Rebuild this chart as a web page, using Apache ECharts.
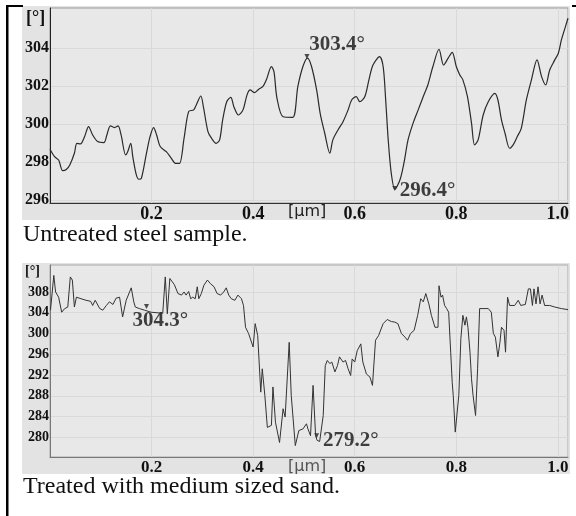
<!DOCTYPE html>
<html>
<head>
<meta charset="utf-8">
<script src="https://cdn.jsdelivr.net/npm/echarts@6/dist/echarts.min.js"></script>
<style>
  html, body { margin: 0; padding: 0; background: #fff; }
  #chart { width: 576px; height: 516px; }
</style>
</head>
<body>
<div id="chart"></div>
<script>
// profile of the untreated sample, [x in µm, angle in °]
var untreated = [
  [0, 298.67], [0.009, 298.28], [0.017, 298.1], [0.025, 297.54], [0.032, 297.6], [0.039, 297.84],
  [0.048, 298.46], [0.053, 298.98], [0.060, 298.95], [0.068, 299.33], [0.076, 299.86], [0.084, 299.42],
  [0.094, 299.07], [0.106, 299.02], [0.112, 299.42], [0.119, 299.9], [0.127, 299.81], [0.134, 299.9],
  [0.140, 299.42], [0.149, 298.37], [0.153, 298.54], [0.159, 298.98], [0.163, 298.28], [0.170, 297.32],
  [0.175, 297.09], [0.180, 297.14], [0.190, 298.46], [0.197, 299.33], [0.204, 299.81], [0.210, 299.42],
  [0.217, 298.81], [0.229, 298.54], [0.239, 298.19], [0.247, 297.93], [0.255, 297.93], [0.264, 299.25],
  [0.273, 300.65], [0.283, 300.74], [0.288, 301.0], [0.297, 301.47], [0.302, 300.91], [0.311, 299.6],
  [0.318, 299.25], [0.327, 298.98], [0.334, 299.16], [0.340, 300.21], [0.348, 301.17], [0.356, 301.4],
  [0.362, 300.91], [0.371, 300.47], [0.380, 300.74], [0.388, 301.53], [0.394, 301.79], [0.403, 301.65],
  [0.411, 301.83], [0.419, 301.96], [0.426, 302.32], [0.436, 303.02], [0.441, 302.75], [0.447, 301.35],
  [0.459, 300.38], [0.478, 300.35], [0.488, 301.96], [0.498, 303.02], [0.507, 303.46], [0.515, 303.02],
  [0.525, 301.79], [0.532, 300.56], [0.541, 299.51], [0.551, 298.46], [0.557, 299.16], [0.567, 299.68],
  [0.577, 300.12], [0.587, 300.74], [0.594, 301.26], [0.603, 301.44], [0.610, 301.17], [0.620, 301.44],
  [0.628, 302.32], [0.636, 303.1], [0.649, 303.54], [0.656, 303.02], [0.661, 301.26], [0.666, 299.16],
  [0.672, 297.4], [0.679, 296.56], [0.689, 297.05], [0.697, 297.95], [0.705, 299.16], [0.715, 300.04],
  [0.725, 300.74], [0.735, 301.44], [0.744, 302.05], [0.754, 303.02], [0.766, 303.93], [0.775, 303.1],
  [0.784, 303.46], [0.792, 303.77], [0.800, 303.02], [0.807, 302.58], [0.813, 302.32], [0.822, 301.44],
  [0.830, 300.04], [0.836, 298.9], [0.843, 299.16], [0.853, 300.47], [0.863, 301.17], [0.876, 301.61],
  [0.882, 301.26], [0.889, 300.21], [0.896, 299.51], [0.905, 298.72], [0.912, 298.9], [0.920, 299.33],
  [0.928, 299.77], [0.938, 301.26], [0.948, 302.32], [0.959, 303.37], [0.968, 302.49], [0.976, 302.05],
  [0.984, 302.84], [0.994, 303.37], [1.001, 303.72], [1.007, 304.42], [1.016, 305.21], [1.020, 305.56]
];

// profile of the sample treated with medium sized sand
var treated = [
  [0.001, 304.5], [0.0075, 311.2], [0.011, 308.0], [0.014, 307.7], [0.017, 307.0], [0.023, 304.1],
  [0.029, 304.8], [0.035, 305.1], [0.040, 310.9], [0.044, 310.3], [0.048, 305.1], [0.052, 307.0],
  [0.061, 306.7], [0.071, 306.4], [0.080, 306.2], [0.084, 305.4], [0.089, 306.4], [0.098, 304.8],
  [0.104, 304.5], [0.111, 305.4], [0.117, 306.1], [0.124, 305.6], [0.130, 306.8], [0.137, 307.0],
  [0.143, 303.2], [0.150, 306.4], [0.160, 308.8], [0.165, 306.1], [0.168, 305.1], [0.176, 304.8],
  [0.186, 304.5], [0.199, 304.1], [0.222, 303.9], [0.227, 310.9], [0.231, 303.8], [0.236, 310.6],
  [0.245, 309.4], [0.252, 307.7], [0.259, 307.4], [0.264, 308.0], [0.268, 307.4], [0.273, 308.1],
  [0.277, 306.7], [0.281, 307.0], [0.286, 306.7], [0.290, 309.0], [0.293, 306.7], [0.298, 307.7],
  [0.303, 309.3], [0.310, 310.3], [0.316, 309.6], [0.323, 309.0], [0.329, 307.7], [0.336, 307.4],
  [0.342, 308.0], [0.347, 308.8], [0.352, 307.4], [0.357, 306.7], [0.364, 306.4], [0.370, 307.4],
  [0.377, 306.7], [0.381, 305.4], [0.385, 301.2], [0.391, 300.0], [0.400, 297.4], [0.404, 301.9],
  [0.409, 299.6], [0.415, 288.7], [0.418, 293.2], [0.423, 288.1], [0.428, 281.9], [0.436, 282.3],
  [0.439, 289.7], [0.444, 282.9], [0.452, 279.0], [0.459, 285.5], [0.463, 283.9], [0.471, 298.3],
  [0.475, 288.1], [0.483, 278.4], [0.490, 281.3], [0.498, 281.6], [0.505, 282.6], [0.508, 281.6],
  [0.513, 280.3], [0.518, 290.0], [0.523, 280.3], [0.526, 279.4], [0.531, 279.2], [0.538, 284.2],
  [0.542, 293.8], [0.546, 294.8], [0.551, 294.2], [0.555, 294.5], [0.561, 292.6], [0.566, 293.8],
  [0.570, 295.5], [0.577, 294.5], [0.582, 294.8], [0.587, 293.2], [0.592, 291.9], [0.595, 295.1],
  [0.600, 294.5], [0.605, 296.7], [0.612, 298.0], [0.616, 294.5], [0.623, 292.2], [0.630, 291.6],
  [0.635, 290.0], [0.641, 298.7], [0.647, 299.6], [0.656, 301.9], [0.664, 302.7], [0.672, 302.3],
  [0.679, 302.2], [0.685, 301.9], [0.692, 300.0], [0.699, 299.3], [0.704, 298.7], [0.710, 300.0],
  [0.717, 300.6], [0.724, 303.5], [0.730, 306.7], [0.735, 306.1], [0.740, 307.7], [0.746, 305.7],
  [0.751, 303.5], [0.758, 301.2], [0.764, 301.2], [0.766, 309.2], [0.770, 307.0], [0.773, 307.4],
  [0.777, 305.4], [0.781, 304.8], [0.785, 304.1], [0.789, 296.4], [0.792, 290.6], [0.794, 288.1],
  [0.798, 281.0], [0.801, 281.3], [0.805, 288.1], [0.809, 299.0], [0.813, 303.5], [0.817, 301.6],
  [0.820, 303.2], [0.823, 301.2], [0.827, 296.4], [0.830, 291.3], [0.833, 288.1], [0.838, 284.2],
  [0.842, 293.2], [0.846, 304.8], [0.863, 304.8], [0.869, 304.1], [0.873, 300.0], [0.877, 299.3],
  [0.882, 295.5], [0.886, 298.3], [0.889, 301.2], [0.894, 300.6], [0.897, 296.4], [0.901, 307.0],
  [0.905, 305.4], [0.915, 305.4], [0.922, 306.4], [0.927, 305.4], [0.936, 305.6], [0.942, 308.6],
  [0.946, 308.6], [0.950, 305.4], [0.953, 308.6], [0.957, 305.7], [0.961, 309.0], [0.965, 305.7],
  [0.969, 307.4], [0.974, 305.4], [0.984, 305.4], [0.994, 305.1], [1.007, 304.8], [1.020, 304.6]
];

var topMarks = [[0.506, 303.55], [0.679, 296.6]];
var topMarkLabels = ['303.4°', '296.4°'];
var bottomMarks = [[0.190, 305.2], [0.525, 280.3]];
var bottomMarkLabels = ['304.3°', '279.2°'];

var topTicks = [296, 298, 300, 302, 304];
var bottomTicks = [280, 284, 288, 292, 296, 300, 304, 308];

var captions = ['Untreated steel sample.', 'Treated with medium sized sand.'];

var serif = '"Liberation Serif", "Times New Roman", serif';
var sans = '"DejaVu Sans", Verdana, sans-serif';

// label offsets relative to the marker box
var topOffsets = [[4.8, -9.5], [7.5, 4.5]];
var bottomOffsets = [[-11.5, 16.5], [8.8, 7.2]];

function markData(points, labels, offsets) {
  return points.map(function (p, i) {
    return {
      value: p,
      label: { position: offsets[i], formatter: labels[i] }
    };
  });
}

function xAxisFor(idx, fontSize) {
  return {
    type: 'value',
    gridIndex: idx,
    min: 0,
    max: 1.02,
    interval: 0.2,
    axisLine: { show: true, lineStyle: { color: idx === 0 ? '#333' : '#777', width: 1 } },
    axisTick: { show: false },
    splitLine: { show: true, lineStyle: { color: '#d9d9d9', width: 1 } },
    axisLabel: {
      margin: 2,
      color: '#111',
      fontFamily: serif,
      fontWeight: 'bold',
      fontSize: fontSize,
      formatter: function (v) { return v === 0 ? '' : v.toFixed(1) }
    }
  }
}

function yAxisFor(idx, min, max, ticks, fontSize) {
  return {
    type: 'value',
    gridIndex: idx,
    min: min,
    max: max,
    axisLine: { show: true, lineStyle: { color: idx === 0 ? '#222' : '#777', width: 1 } },
    axisTick: { show: false, customValues: ticks },
    splitLine: { show: true, lineStyle: { color: '#d9d9d9', width: 1 } },
    axisLabel: {
      customValues: ticks,
      margin: 1,
      color: '#111',
      fontFamily: serif,
      fontWeight: 'bold',
      fontSize: fontSize
    }
  }
}

var markLabel = {
  show: true,
  align: 'left',
  verticalAlign: 'middle',
  color: '#111',
  fontFamily: serif,
  fontWeight: 'bold',
  fontSize: 21
};

var chart = echarts.init(document.getElementById('chart'), null, { renderer: 'canvas' });

chart.setOption({
  animation: false,
  backgroundColor: '#fff',
  graphic: [
    { type: 'rect', z: -10, shape: { x: 22, y: 6, width: 548, height: 214 }, style: { fill: '#e3e3e3' } },
    { type: 'rect', z: -10, shape: { x: 22, y: 263, width: 548, height: 211 }, style: { fill: '#e3e3e3' } },
    { type: 'rect', shape: { x: 6, y: 5, width: 2.5, height: 511 }, style: { fill: '#000' } },
    { type: 'rect', shape: { x: 6, y: 5, width: 17, height: 2 }, style: { fill: '#000' } },
    { type: 'rect', shape: { x: 572, y: 5, width: 4, height: 2 }, style: { fill: '#000' } },
    { type: 'text', left: 26, top: 9, style: { text: '[°]', font: 'bold 18px ' + serif, fill: '#111' } },
    { type: 'text', left: 25, top: 264, style: { text: '[°]', font: 'bold 14px ' + serif, fill: '#111' } },
    { type: 'text', left: 288, top: 204, style: { text: '[µm]', font: '16px ' + sans, fill: '#222' } },
    { type: 'text', left: 288, top: 459, style: { text: '[µm]', font: '16px ' + sans, fill: '#555' } },
    { type: 'text', left: 23, top: 223, style: { text: captions[0], font: '24px ' + serif, fill: '#111' } },
    { type: 'text', left: 23, top: 475, style: { text: captions[1], font: '24px ' + serif, fill: '#111' } }
  ],
  grid: [
    { left: 50, right: 8, top: 8, height: 195, show: true, backgroundColor: '#e8e8e8', borderColor: '#999', borderWidth: 1 },
    { left: 50, right: 8, top: 265, height: 192, show: true, backgroundColor: '#e8e8e8', borderColor: '#aaa', borderWidth: 1 }
  ],
  xAxis: [xAxisFor(0, 18), xAxisFor(1, 17)],
  yAxis: [
    yAxisFor(0, 295.84, 306.1, topTicks, 16),
    yAxisFor(1, 276.2, 313.2, bottomTicks, 14)
  ],
  series: [
    {
      type: 'line',
      xAxisIndex: 0,
      yAxisIndex: 0,
      data: untreated,
      showSymbol: false,
      smooth: 0.3,
      lineStyle: { color: '#2a2a2a', width: 1.2 }
    },
    {
      type: 'line',
      xAxisIndex: 1,
      yAxisIndex: 1,
      data: treated,
      showSymbol: false,
      lineStyle: { color: '#333', width: 1 }
    },
    {
      type: 'scatter',
      xAxisIndex: 0,
      yAxisIndex: 0,
      symbol: 'triangle',
      symbolRotate: 180,
      symbolSize: 5,
      itemStyle: { color: '#222' },
      label: markLabel,
      data: markData(topMarks, topMarkLabels, topOffsets)
    },
    {
      type: 'scatter',
      xAxisIndex: 1,
      yAxisIndex: 1,
      symbol: 'triangle',
      symbolRotate: 180,
      symbolSize: 5,
      itemStyle: { color: '#222' },
      label: markLabel,
      data: markData(bottomMarks, bottomMarkLabels, bottomOffsets)
    }
  ]
});
</script>
</body>
</html>
